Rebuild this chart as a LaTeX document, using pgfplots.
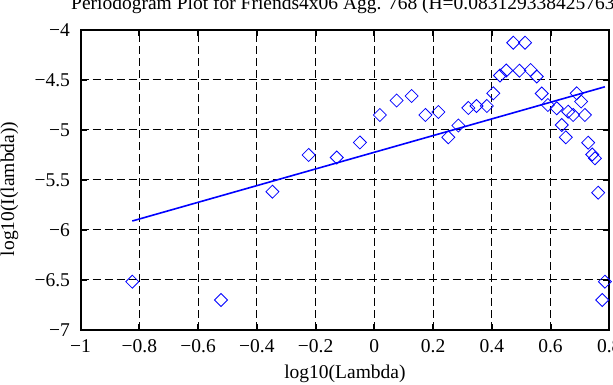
\documentclass[border=0pt]{standalone}
\usepackage{fontspec}
\setmainfont{Liberation Serif}
\usepackage{pgfplots}
\pgfplotsset{compat=1.18}
\begin{document}
\fontsize{19.5}{23}\selectfont
\begin{tikzpicture}[x=1pt,y=1pt]
\begin{axis}[
  at={(80.6pt,55pt)}, anchor=south west,
  scale only axis, width=528.7pt, height=300pt,
  xmin=-1, xmax=0.8, ymin=-7, ymax=-4,
  xtick={-1,-0.8,-0.6,-0.4,-0.2,0,0.2,0.4,0.6,0.8},
  xticklabels={−1,−0.8,−0.6,−0.4,−0.2,0,0.2,0.4,0.6,0.8},
  ytick={-7,-6.5,-6,-5.5,-5,-4.5,-4},
  yticklabels={−7,−6.5,−6,−5.5,−5,−4.5,−4},
  grid=major,
  major grid style={black, line width=1pt, dash pattern=on 8pt off 4pt},
  axis line style={black, line width=2pt},
  tick style={black, line width=2pt},
  major tick length=6pt,
  tick align=inside,
  ticklabel style={font=\fontsize{19.5}{23}\selectfont},
  xticklabel style={yshift=-3pt},
  yticklabel style={xshift=-4pt},
  xlabel={log10(Lambda)},
  ylabel={log10(I(lambda))},
  label style={font=\fontsize{19.5}{23}\selectfont},
  xlabel style={at={(axis description cs:0.5,-0.1633)}, anchor=base},
  ylabel style={at={(axis description cs:-0.1345,0.47)}, anchor=center},
  title={Periodogram Plot for Friends4x06 Agg. 768 (H=0.0831293384257632)},
  title style={at={(axis description cs:-0.0305,1.049)}, anchor=base west, font=\fontsize{19.5}{23}\selectfont},
]
\addplot[only marks, blue, mark=square, mark size=4.6pt, mark options={rotate=45, line width=0.8pt, blue}] coordinates {
(-0.824,-6.517)
(-0.522,-6.700)
(-0.347,-5.617)
(-0.2235,-5.250)
(-0.128,-5.275)
(-0.049,-5.125)
(0.019,-4.850)
(0.076,-4.705)
(0.127,-4.660)
(0.174,-4.850)
(0.218,-4.820)
(0.252,-5.073)
(0.286,-4.955)
(0.320,-4.780)
(0.348,-4.760)
(0.383,-4.760)
(0.405,-4.633)
(0.428,-4.455)
(0.449,-4.405)
(0.473,-4.127)
(0.494,-4.407)
(0.513,-4.127)
(0.532,-4.400)
(0.553,-4.465)
(0.570,-4.635)
(0.591,-4.750)
(0.621,-4.783)
(0.638,-4.950)
(0.652,-5.073)
(0.660,-4.817)
(0.677,-4.850)
(0.689,-4.633)
(0.704,-4.715)
(0.717,-4.850)
(0.728,-5.127)
(0.742,-5.245)
(0.751,-5.283)
(0.762,-5.627)
(0.776,-6.700)
(0.785,-6.517)
};
\addplot[blue, line width=1.6pt] coordinates {(-0.824,-5.910) (0.785,-4.568)};
\end{axis}
\pgfresetboundingbox
\path[use as bounding box] (0,0) rectangle (613,385);
\end{tikzpicture}
\end{document}
